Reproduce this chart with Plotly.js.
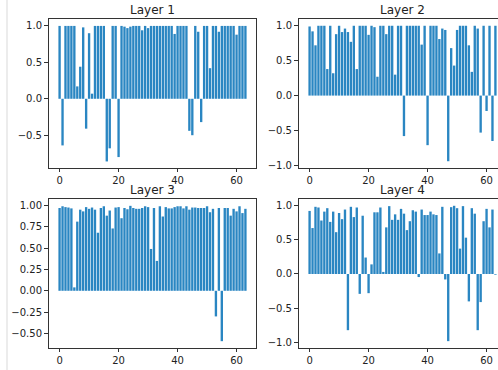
<!DOCTYPE html>
<html>
<head>
<meta charset="utf-8">
<script src="https://cdn.plot.ly/plotly-3.0.1.min.js"></script>
<style>
html,body{margin:0;padding:0;background:#fff;overflow:hidden;}
#chart{width:510px;height:370px;}
</style>
</head>
<body>
<div id="chart"></div>
<script>
const idx = [0,1,2,3,4,5,6,7,8,9,10,11,12,13,14,15,16,17,18,19,20,21,22,23,24,25,26,27,28,29,30,31,
             32,33,34,35,36,37,38,39,40,41,42,43,44,45,46,47,48,49,50,51,52,53,54,55,56,57,58,59,60,61,62,63];

const layer1 = [1.0,-0.64,1.0,1.0,1.0,1.0,0.17,0.44,0.98,-0.41,0.90,0.07,1.0,1.0,1.0,1.0,
                -0.86,-0.68,1.0,1.0,-0.80,1.0,0.99,0.97,0.99,1.0,1.0,1.0,0.94,1.0,0.97,1.0,
                1.0,1.0,1.0,1.0,1.0,1.0,1.0,0.89,1.0,1.0,1.0,1.0,-0.44,-0.50,1.0,0.92,
                -0.32,1.0,1.0,0.42,1.0,1.0,0.92,1.0,1.0,1.0,1.0,1.0,0.88,1.0,1.0,1.0];

const layer2 = [0.99,0.92,0.72,1.0,1.0,1.0,0.38,1.0,0.32,0.88,1.0,0.91,0.96,0.91,0.77,1.0,
                0.38,1.0,1.0,1.0,0.87,1.0,0.98,0.27,1.0,1.0,0.88,1.0,1.0,0.30,1.0,1.0,
                -0.58,1.0,1.0,1.0,1.0,1.0,0.73,1.0,-0.71,1.0,1.0,1.0,0.81,0.96,0.94,-0.94,
                0.68,0.43,0.94,1.0,1.0,1.0,0.72,0.34,1.0,0.96,-0.53,1.0,-0.22,1.0,-0.65,1.0];

const layer3 = [0.97,0.99,0.98,0.975,0.965,0.04,0.81,0.95,0.93,0.98,0.96,0.975,0.95,0.68,0.97,0.99,
                0.88,0.94,0.73,0.975,0.98,0.85,0.97,0.955,0.995,0.97,0.96,0.96,0.97,0.99,0.98,0.49,
                0.97,0.35,0.99,0.87,0.98,0.965,0.965,0.98,0.99,0.99,0.965,0.99,0.95,0.975,0.975,0.97,
                0.97,0.97,0.99,0.92,0.96,-0.30,0.97,-0.59,0.97,0.97,0.88,0.96,0.93,0.99,0.91,0.96];

const layer4 = [0.92,0.67,0.98,0.97,0.78,0.91,0.96,0.76,0.91,0.61,0.89,0.80,0.94,-0.82,0.98,0.83,
                0.97,-0.29,0.85,0.24,-0.28,0.14,0.90,0.90,0.97,0.03,0.68,0.99,0.79,0.87,0.79,0.95,
                0.88,0.64,0.77,0.93,0.91,-0.045,0.94,0.86,0.86,0.91,0.87,0.86,0.30,0.98,-0.08,-0.98,
                0.975,0.995,0.96,0.37,0.99,0.53,-0.40,0.96,0.88,-0.82,-0.41,0.77,0.95,0.68,0.94,-0.01];

const titles = ["Layer 1","Layer 2","Layer 3","Layer 4"];
const xTicks = [0,20,40,60];

const W = 510, H = 370;
const barColor = "#2a86c2";
const font = {family: "DejaVu Sans, sans-serif", size: 10, color: "#222"};

const series = [layer1, layer2, layer3, layer4];
const traces = series.map((vals, i) => ({
  type: "bar",
  x: idx,
  y: vals,
  xaxis: "x" + (i === 0 ? "" : (i + 1)),
  yaxis: "y" + (i === 0 ? "" : (i + 1)),
  marker: {color: barColor, line: {width: 0}},
  hoverinfo: "skip"
}));

const xDom = [[49 / W, 256 / W], [299 / W, 506 / W]];
const yDom = [[1 - 168 / H, 1 - 19 / H], [1 - 348 / H, 1 - 199 / H]];

function xax(d, anchor) {
  return {
    domain: d, anchor: anchor, range: [-3.59, 66.59],
    tickvals: xTicks, ticktext: xTicks.map(String),
    ticks: "outside", ticklen: 3, tickwidth: 1, tickcolor: "#333",
    showline: true, mirror: true, linecolor: "#333", linewidth: 1,
    showgrid: false, zeroline: false, tickfont: font
  };
}
function yax(d, anchor, range, vals, fmt) {
  return {
    domain: d, anchor: anchor, range: range,
    tickvals: vals, ticktext: vals.map(v => (v < 0 ? "\u2212" : "") + Math.abs(v).toFixed(fmt)),
    ticks: "outside", ticklen: 4, tickwidth: 1, tickcolor: "#333",
    showline: true, mirror: true, linecolor: "#333", linewidth: 1,
    showgrid: false, zeroline: false, tickfont: font
  };
}

const layout = {
  width: W, height: H,
  margin: {l: 0, r: 0, t: 0, b: 0},
  paper_bgcolor: "#fff", plot_bgcolor: "#fff",
  showlegend: false, bargap: 0.2,
  xaxis: xax(xDom[0], "y"),
  yaxis: yax(yDom[0], "x", [-0.95, 1.095], [-0.5, 0, 0.5, 1.0], 1),
  xaxis2: xax(xDom[1], "y2"),
  yaxis2: yax(yDom[0], "x2", [-1.037, 1.097], [-1.0, -0.5, 0, 0.5, 1.0], 1),
  xaxis3: xax(xDom[0], "y3"),
  yaxis3: yax(yDom[1], "x3", [-0.67, 1.075], [-0.5, -0.25, 0, 0.25, 0.5, 0.75, 1.0], 2),
  xaxis4: xax(xDom[1], "y4"),
  yaxis4: yax(yDom[1], "x4", [-1.08, 1.094], [-1.0, -0.5, 0, 0.5, 1.0], 1),
  annotations: titles.map((t, i) => ({
    text: t, showarrow: false, xref: "paper", yref: "paper",
    x: (xDom[i % 2][0] + xDom[i % 2][1]) / 2,
    y: i < 2 ? 1 - 10 / H : 1 - 190 / H,
    xanchor: "center", yanchor: "middle", borderpad: 0,
    font: {family: "DejaVu Sans, sans-serif", size: 12, color: "#222"}
  })),
  shapes: [{type: "line", xref: "paper", yref: "paper", x0: 7 / W, x1: 7 / W, y0: 0, y1: 1,
            line: {color: "#d9d9d9", width: 1}}]
};

Plotly.newPlot("chart", traces, layout, {displayModeBar: false, staticPlot: true});
</script>
</body>
</html>
